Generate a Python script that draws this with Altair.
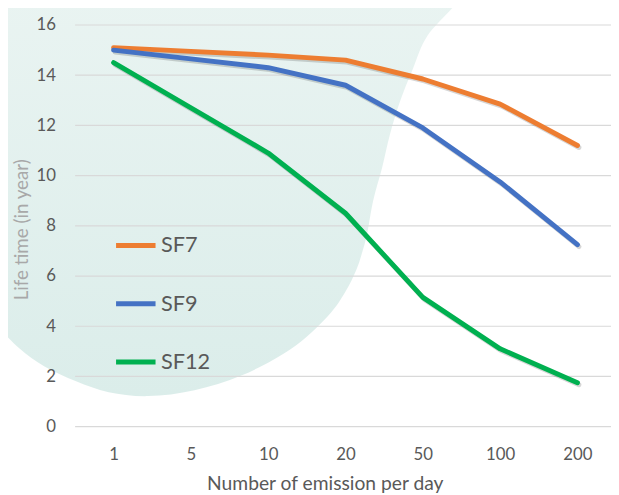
import altair as alt
import pandas as pd

# ---- data ----
x_labels = ["1", "5", "10", "20", "50", "100", "200"]
sf7 = [15.1, 14.95, 14.8, 14.6, 13.85, 12.85, 11.2]
sf9 = [15.0, 14.65, 14.3, 13.6, 11.9, 9.75, 7.25]
sf12 = [14.5, 12.7, 10.9, 8.5, 5.15, 3.1, 1.75]
series_names = ["SF7", "SF9", "SF12"]
series_colors = ["#ED7D31", "#4472C4", "#00B050"]
y_ticks = [0, 2, 4, 6, 8, 10, 12, 14, 16]

rows = []
for name, vals in zip(series_names, [sf7, sf9, sf12]):
    for x, v in zip(x_labels, vals):
        rows.append({"emissions": x, "series": name, "life": v})
df = pd.DataFrame(rows)
ticks_df = pd.DataFrame({"tick": y_ticks})

FONT = "Lato"
LABEL_COLOR = "#595959"

# ---- decorative background blob (page-pixel outline, normalised to a symbol path) ----
blob_outline = [(-40, -60), (480, -60), (470, -20), (462, 0), (433, 33), (418, 67), (405, 100),
                (395, 133), (387, 167), (378, 200), (372, 233), (367, 252), (361, 270),
                (350, 292), (332, 317), (295, 350), (245, 377), (197, 392), (150, 398),
                (110, 394), (77, 383), (45, 368), (20, 350), (0, 330), (-20, 305), (-60, 250)]
cx, cy, half = 230.0, 180.0, 260.0
pts = [((px - cx) / half, (py - cy) / half) for px, py in blob_outline]
n = len(pts)
path = "M{:.4f},{:.4f}".format(*pts[0])
for i in range(n):
    p0 = pts[(i - 1) % n]
    p1 = pts[i]
    p2 = pts[(i + 1) % n]
    p3 = pts[(i + 2) % n]
    c1 = (p1[0] + (p2[0] - p0[0]) / 6, p1[1] + (p2[1] - p0[1]) / 6)
    c2 = (p2[0] - (p3[0] - p1[0]) / 6, p2[1] - (p3[1] - p1[1]) / 6)
    path += " C{:.4f},{:.4f} {:.4f},{:.4f} {:.4f},{:.4f}".format(c1[0], c1[1], c2[0], c2[1], p2[0], p2[1])
path += " Z"

PAD_L, PAD_T = 68, 14
blob_fill = alt.LinearGradient(
    gradient="linear", x1=0, y1=0, x2=0, y2=1,
    stops=[alt.GradientStop(offset=0, color="#ecf5f3"),
           alt.GradientStop(offset=1, color="#dbedea")])

blob = alt.Chart(pd.DataFrame({"k": [0]})).mark_point(
    shape=path, filled=True, size=(2 * half) ** 2, fill=blob_fill,
    strokeWidth=0, opacity=1
).encode(x=alt.value(cx - 8 - PAD_L), y=alt.value(cy - 8 - PAD_T))

x_enc = alt.X("emissions:O", sort=x_labels,
              scale=alt.Scale(type="point", domain=x_labels, range=[39, 509], padding=0),
              axis=alt.Axis(title="Number of emission per day", labelAngle=0,
                            domain=False, ticks=False, tickSize=0, grid=False, zindex=1,
                            labelFont=FONT, labelFontSize=17, labelColor=LABEL_COLOR,
                            labelPadding=33, labelBaseline="alphabetic",
                            titleFont=FONT, titleFontSize=19.5, titleFontWeight="normal",
                            titleColor=LABEL_COLOR, titleX=253, titleY=64, titleLimit=1000,
                            titleBaseline="alphabetic", titleAnchor="middle"))

y_axis = alt.Axis(title="Life time (in year)", values=y_ticks, domain=False, ticks=False,
                  tickSize=0, grid=False, zindex=1, labelFont=FONT, labelFontSize=17,
                  labelColor=LABEL_COLOR, labelPadding=20,
                  titleFont=FONT, titleFontSize=19, titleFontWeight="normal",
                  titleColor="#a8a8a8", titleX=-54, titleY=207, titleAngle=270,
                  titleLimit=1000, titleAlign="center", titleBaseline="middle")
y_scale = alt.Scale(domain=[0, 16], nice=False)

grid = alt.Chart(ticks_df).mark_rule(color="#d9d9d9", strokeWidth=1.2).encode(
    y=alt.Y("tick:Q", scale=y_scale, axis=y_axis)
)

shadow = alt.Chart(df).mark_line(
    strokeWidth=5, color="#000000", opacity=0.16, xOffset=1.5, yOffset=2,
    strokeJoin="round", strokeCap="round"
).encode(
    x=x_enc,
    y=alt.Y("life:Q", scale=y_scale, axis=y_axis),
    detail="series:N",
)

lines = alt.Chart(df).mark_line(
    strokeWidth=5, strokeJoin="round", strokeCap="round"
).encode(
    x=x_enc,
    y=alt.Y("life:Q", scale=y_scale, axis=y_axis),
    color=alt.Color("series:N", sort=series_names,
                    scale=alt.Scale(domain=series_names, range=series_colors),
                    legend=alt.Legend(title=None, orient="none", legendX=39, legendY=201,
                                      symbolType="stroke", symbolSize=1600,
                                      symbolStrokeWidth=5, labelFont=FONT,
                                      labelFontSize=22, labelColor=LABEL_COLOR,
                                      labelOffset=3, rowPadding=25, padding=0)),
)

chart = alt.layer(blob, grid, shadow, lines).properties(
    width=543, height=407,
    padding={"left": PAD_L, "top": PAD_T, "right": 0, "bottom": 66},
    autosize=alt.AutoSizeParams(type="none"),
    background="white",
).configure_view(stroke=None)

chart.save("out.html", embed_options={"renderer": "svg", "actions": False})
